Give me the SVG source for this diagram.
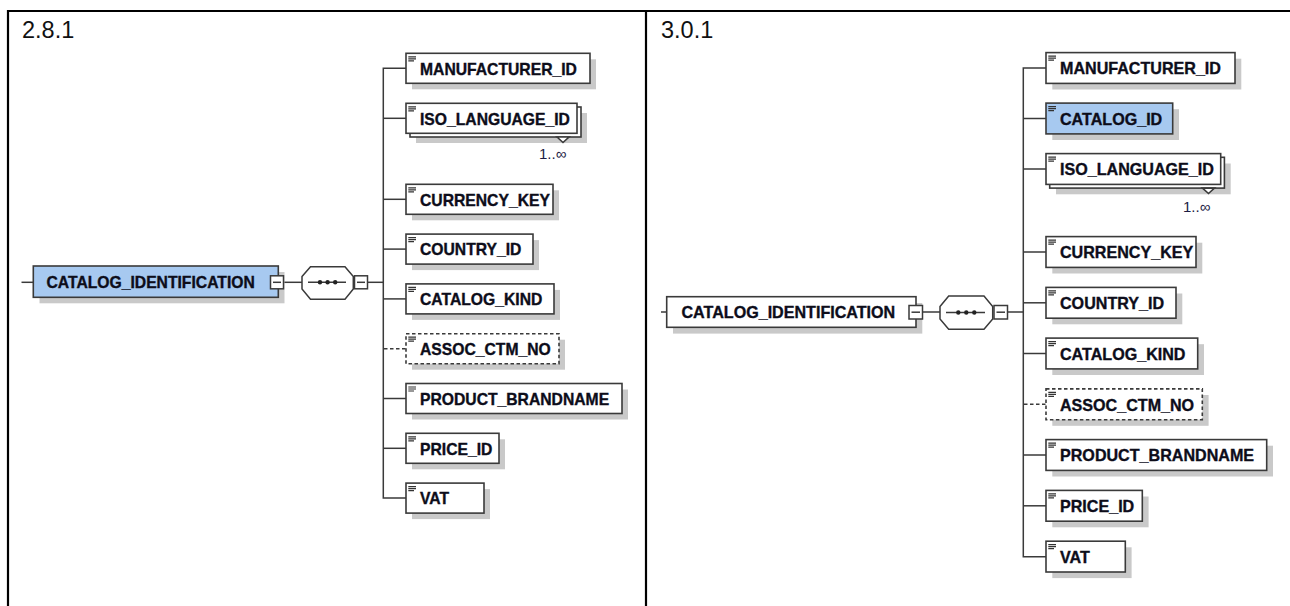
<svg xmlns="http://www.w3.org/2000/svg" width="1290" height="606" viewBox="0 0 1290 606">
<defs>
<style>
.frame{stroke:#000;stroke-width:2.2;fill:none}
.title{font-family:"Liberation Sans",Arial,sans-serif;font-size:23.5px;fill:#111}
.box{fill:#fff;stroke:#3a3a3a;stroke-width:1.6}
.sel{fill:#a7c9f0;stroke:#3a3a3a;stroke-width:1.6}
.opt{fill:#fff;stroke:#3a3a3a;stroke-width:1.6;stroke-dasharray:3.5 2.5}
.shd{fill:#c9c9c9}
.lbl{font-family:"Liberation Sans",Arial,sans-serif;font-weight:bold;fill:#0d0d1a;stroke:#0d0d1a;stroke-width:0.35}
.l{font-size:15.7px}
.r{font-size:16.1px}
.ico{stroke:#333;stroke-width:1.2;fill:none}
.con{stroke:#3a3a3a;stroke-width:1.5;fill:none}
.dash{stroke:#3a3a3a;stroke-width:1.5;fill:none;stroke-dasharray:3.5 2.5}
.mult{font-family:"Liberation Sans",Arial,sans-serif;font-size:15px;fill:#1c1c44}
.tog{fill:#fff;stroke:#3a3a3a;stroke-width:1.5}
.seq{fill:#fff;stroke:#3a3a3a;stroke-width:1.5}
</style>
</defs>

<!-- frame -->
<g id="frame">
<line class="frame" x1="7" y1="11" x2="1290" y2="11"/>
<line class="frame" x1="8" y1="10" x2="8" y2="606"/>
<line class="frame" x1="646" y1="10" x2="646" y2="606"/>
<text class="title" x="22" y="37.5">2.8.1</text>
<text class="title" x="661" y="37.5">3.0.1</text>
</g>

<!-- connectors -->
<g id="connectors">
<!-- left panel -->
<line class="con" x1="21.5" y1="282.3" x2="33.3" y2="282.3"/>
<line class="con" x1="283.5" y1="282.3" x2="302" y2="282.3"/>
<line class="con" x1="367.5" y1="282.3" x2="383.3" y2="282.3"/>
<path class="con" d="M406 68.3 H383.3 V498.1 H406"/>
<line class="con" x1="383.3" y1="118.3" x2="406" y2="118.3"/>
<line class="con" x1="383.3" y1="199.3" x2="406" y2="199.3"/>
<line class="con" x1="383.3" y1="249.1" x2="406" y2="249.1"/>
<line class="con" x1="383.3" y1="298.9" x2="406" y2="298.9"/>
<line class="dash" x1="384" y1="348.7" x2="406" y2="348.7"/>
<line class="con" x1="383.3" y1="398.5" x2="406" y2="398.5"/>
<line class="con" x1="383.3" y1="448.3" x2="406" y2="448.3"/>
<!-- right panel -->
<line class="con" x1="661" y1="312" x2="666.7" y2="312"/>
<line class="con" x1="922.5" y1="312" x2="940" y2="312"/>
<line class="con" x1="1007.5" y1="312" x2="1023.3" y2="312"/>
<path class="con" d="M1046 68 H1023.3 V556.7 H1046"/>
<line class="con" x1="1023.3" y1="118.5" x2="1046" y2="118.5"/>
<line class="con" x1="1023.3" y1="169" x2="1046" y2="169"/>
<line class="con" x1="1023.3" y1="252" x2="1046" y2="252"/>
<line class="con" x1="1023.3" y1="302.8" x2="1046" y2="302.8"/>
<line class="con" x1="1023.3" y1="353.5" x2="1046" y2="353.5"/>
<line class="dash" x1="1024" y1="404.3" x2="1046" y2="404.3"/>
<line class="con" x1="1023.3" y1="455" x2="1046" y2="455"/>
<line class="con" x1="1023.3" y1="505.8" x2="1046" y2="505.8"/>
</g>

<!-- ================= LEFT PANEL (2.8.1) ================= -->
<g id="l_catalog_identification">
<rect class="shd" x="39.5" y="272" width="245" height="31.3"/>
<rect class="sel" x="33.3" y="266" width="245" height="31.3"/>
<text class="lbl l" x="46.5" y="287.5">CATALOG_IDENTIFICATION</text>
<rect class="tog" x="270.5" y="275.8" width="13" height="13"/>
<line class="con" x1="273" y1="282.3" x2="281" y2="282.3"/>
</g>

<g id="l_sequence">
<polygon class="seq" points="302,276.5 310.5,266.7 345,266.7 353.3,276.5 353.3,289 345,299.3 310.5,299.3 302,289"/>
<line class="con" x1="308" y1="282.3" x2="346" y2="282.3"/>
<circle cx="320" cy="282.3" r="2.2" fill="#222"/>
<circle cx="327.6" cy="282.3" r="2.2" fill="#222"/>
<circle cx="335.2" cy="282.3" r="2.2" fill="#222"/>
<rect class="tog" x="354.5" y="275.8" width="13" height="13"/>
<line class="con" x1="357" y1="282.3" x2="365" y2="282.3"/>
</g>

<g id="l_manufacturer_id">
<rect class="shd" x="412" y="59.3" width="184" height="30"/>
<rect class="box" x="406" y="53.3" width="184" height="30"/>
<path class="ico" d="M408.3 56.8 H416 M408.3 58.8 H416 M408.3 60.8 H414"/>
<text class="lbl l" x="420" y="74.5">MANUFACTURER_ID</text>
</g>

<g id="l_iso_language_id">
<rect class="shd" x="416" y="113" width="171" height="30"/>
<rect class="box" x="410" y="107" width="171" height="30"/>
<polygon class="box" points="557,137 563,142.5 569,137"/>
<rect class="box" x="406" y="103.3" width="171" height="30"/>
<path class="ico" d="M408.3 106.8 H416 M408.3 108.8 H416 M408.3 110.8 H414"/>
<text class="lbl l" x="420" y="124.5">ISO_LANGUAGE_ID</text>
<text class="mult" x="539" y="158.5">1..∞</text>
</g>

<g id="l_currency_key">
<rect class="shd" x="412" y="190.3" width="147" height="30"/>
<rect class="box" x="406" y="184.3" width="147" height="30"/>
<path class="ico" d="M408.3 187.8 H416 M408.3 189.8 H416 M408.3 191.8 H414"/>
<text class="lbl l" x="420" y="205.5">CURRENCY_KEY</text>
</g>

<g id="l_country_id">
<rect class="shd" x="412" y="240.1" width="127" height="30"/>
<rect class="box" x="406" y="234.1" width="127" height="30"/>
<path class="ico" d="M408.3 237.6 H416 M408.3 239.6 H416 M408.3 241.6 H414"/>
<text class="lbl l" x="420" y="255.3">COUNTRY_ID</text>
</g>

<g id="l_catalog_kind">
<rect class="shd" x="412" y="289.9" width="148" height="30"/>
<rect class="box" x="406" y="283.9" width="148" height="30"/>
<path class="ico" d="M408.3 287.4 H416 M408.3 289.4 H416 M408.3 291.4 H414"/>
<text class="lbl l" x="420" y="305.1">CATALOG_KIND</text>
</g>

<g id="l_assoc_ctm_no">
<rect class="shd" x="412" y="339.7" width="153" height="30"/>
<rect class="opt" x="406" y="333.7" width="153" height="30"/>
<path class="ico" d="M408.3 337.2 H416 M408.3 339.2 H416 M408.3 341.2 H414"/>
<text class="lbl l" x="420" y="354.9">ASSOC_CTM_NO</text>
</g>

<g id="l_product_brandname">
<rect class="shd" x="412" y="389.5" width="216" height="30"/>
<rect class="box" x="406" y="383.5" width="216" height="30"/>
<path class="ico" d="M408.3 387 H416 M408.3 389 H416 M408.3 391 H414"/>
<text class="lbl l" x="420" y="404.7">PRODUCT_BRANDNAME</text>
</g>

<g id="l_price_id">
<rect class="shd" x="412" y="439.3" width="93" height="30"/>
<rect class="box" x="406" y="433.3" width="93" height="30"/>
<path class="ico" d="M408.3 436.8 H416 M408.3 438.8 H416 M408.3 440.8 H414"/>
<text class="lbl l" x="420" y="454.5">PRICE_ID</text>
</g>

<g id="l_vat">
<rect class="shd" x="412" y="489.1" width="78" height="30"/>
<rect class="box" x="406" y="483.1" width="78" height="30"/>
<path class="ico" d="M408.3 486.6 H416 M408.3 488.6 H416 M408.3 490.6 H414"/>
<text class="lbl l" x="420" y="504.3">VAT</text>
</g>

<!-- ================= RIGHT PANEL (3.0.1) ================= -->
<g id="r_catalog_identification">
<rect class="shd" x="673" y="303" width="249.3" height="30.6"/>
<rect class="box" x="666.7" y="296.7" width="249.3" height="30.6"/>
<text class="lbl r" x="681.5" y="318.3">CATALOG_IDENTIFICATION</text>
<rect class="tog" x="909" y="305.5" width="13.5" height="13.5"/>
<line class="con" x1="911.5" y1="312.2" x2="920" y2="312.2"/>
</g>

<g id="r_sequence">
<polygon class="seq" points="940,306.5 948.7,296 984,296 992.7,306.5 992.7,319 984,329.3 948.7,329.3 940,319"/>
<line class="con" x1="946" y1="312.5" x2="985" y2="312.5"/>
<circle cx="958.3" cy="312.5" r="2.2" fill="#222"/>
<circle cx="966.3" cy="312.5" r="2.2" fill="#222"/>
<circle cx="974.3" cy="312.5" r="2.2" fill="#222"/>
<rect class="tog" x="994" y="305.5" width="13.5" height="13.5"/>
<line class="con" x1="996.5" y1="312.2" x2="1005" y2="312.2"/>
</g>

<g id="r_manufacturer_id">
<rect class="shd" x="1052.3" y="58.7" width="189" height="30.8"/>
<rect class="box" x="1046" y="52.6" width="189" height="30.8"/>
<path class="ico" d="M1048.3 56.1 H1056 M1048.3 58.1 H1056 M1048.3 60.1 H1054"/>
<text class="lbl r" x="1060" y="74.3">MANUFACTURER_ID</text>
</g>

<g id="r_catalog_id">
<rect class="shd" x="1052.3" y="109.2" width="126.7" height="30.8"/>
<rect class="sel" x="1046" y="103.1" width="126.7" height="30.8"/>
<path class="ico" d="M1048.3 106.6 H1056 M1048.3 108.6 H1056 M1048.3 110.6 H1054"/>
<text class="lbl r" x="1060" y="124.8">CATALOG_ID</text>
</g>

<g id="r_iso_language_id">
<rect class="shd" x="1056" y="163.5" width="174.7" height="30.8"/>
<rect class="box" x="1049.7" y="157.3" width="174.7" height="30.8"/>
<polygon class="box" points="1202.5,188.1 1208.5,193.5 1214.5,188.1"/>
<rect class="box" x="1046" y="153.6" width="174.7" height="30.8"/>
<path class="ico" d="M1048.3 157.1 H1056 M1048.3 159.1 H1056 M1048.3 161.1 H1054"/>
<text class="lbl r" x="1060" y="175.3">ISO_LANGUAGE_ID</text>
<text class="mult" x="1183" y="211.5">1..∞</text>
</g>

<g id="r_currency_key">
<rect class="shd" x="1052.3" y="242.7" width="150" height="30.8"/>
<rect class="box" x="1046" y="236.6" width="150" height="30.8"/>
<path class="ico" d="M1048.3 240.1 H1056 M1048.3 242.1 H1056 M1048.3 244.1 H1054"/>
<text class="lbl r" x="1060" y="258.3">CURRENCY_KEY</text>
</g>

<g id="r_country_id">
<rect class="shd" x="1052.3" y="293.5" width="130" height="30.8"/>
<rect class="box" x="1046" y="287.4" width="130" height="30.8"/>
<path class="ico" d="M1048.3 290.9 H1056 M1048.3 292.9 H1056 M1048.3 294.9 H1054"/>
<text class="lbl r" x="1060" y="309.1">COUNTRY_ID</text>
</g>

<g id="r_catalog_kind">
<rect class="shd" x="1052.3" y="344.2" width="151.7" height="30.8"/>
<rect class="box" x="1046" y="338.1" width="151.7" height="30.8"/>
<path class="ico" d="M1048.3 341.6 H1056 M1048.3 343.6 H1056 M1048.3 345.6 H1054"/>
<text class="lbl r" x="1060" y="359.8">CATALOG_KIND</text>
</g>

<g id="r_assoc_ctm_no">
<rect class="shd" x="1052.3" y="395" width="156.3" height="30.8"/>
<rect class="opt" x="1046" y="388.9" width="156.3" height="30.8"/>
<path class="ico" d="M1048.3 392.4 H1056 M1048.3 394.4 H1056 M1048.3 396.4 H1054"/>
<text class="lbl r" x="1060" y="410.6">ASSOC_CTM_NO</text>
</g>

<g id="r_product_brandname">
<rect class="shd" x="1052.3" y="445.7" width="220.7" height="30.8"/>
<rect class="box" x="1046" y="439.6" width="220.7" height="30.8"/>
<path class="ico" d="M1048.3 443.1 H1056 M1048.3 445.1 H1056 M1048.3 447.1 H1054"/>
<text class="lbl r" x="1060" y="461.3">PRODUCT_BRANDNAME</text>
</g>

<g id="r_price_id">
<rect class="shd" x="1052.3" y="496.5" width="96.3" height="30.8"/>
<rect class="box" x="1046" y="490.4" width="96.3" height="30.8"/>
<path class="ico" d="M1048.3 493.9 H1056 M1048.3 495.9 H1056 M1048.3 497.9 H1054"/>
<text class="lbl r" x="1060" y="512.1">PRICE_ID</text>
</g>

<g id="r_vat">
<rect class="shd" x="1052.3" y="547.3" width="79.3" height="30.8"/>
<rect class="box" x="1046" y="541.2" width="79.3" height="30.8"/>
<path class="ico" d="M1048.3 544.7 H1056 M1048.3 546.7 H1056 M1048.3 548.7 H1054"/>
<text class="lbl r" x="1060" y="562.9">VAT</text>
</g>
</svg>
